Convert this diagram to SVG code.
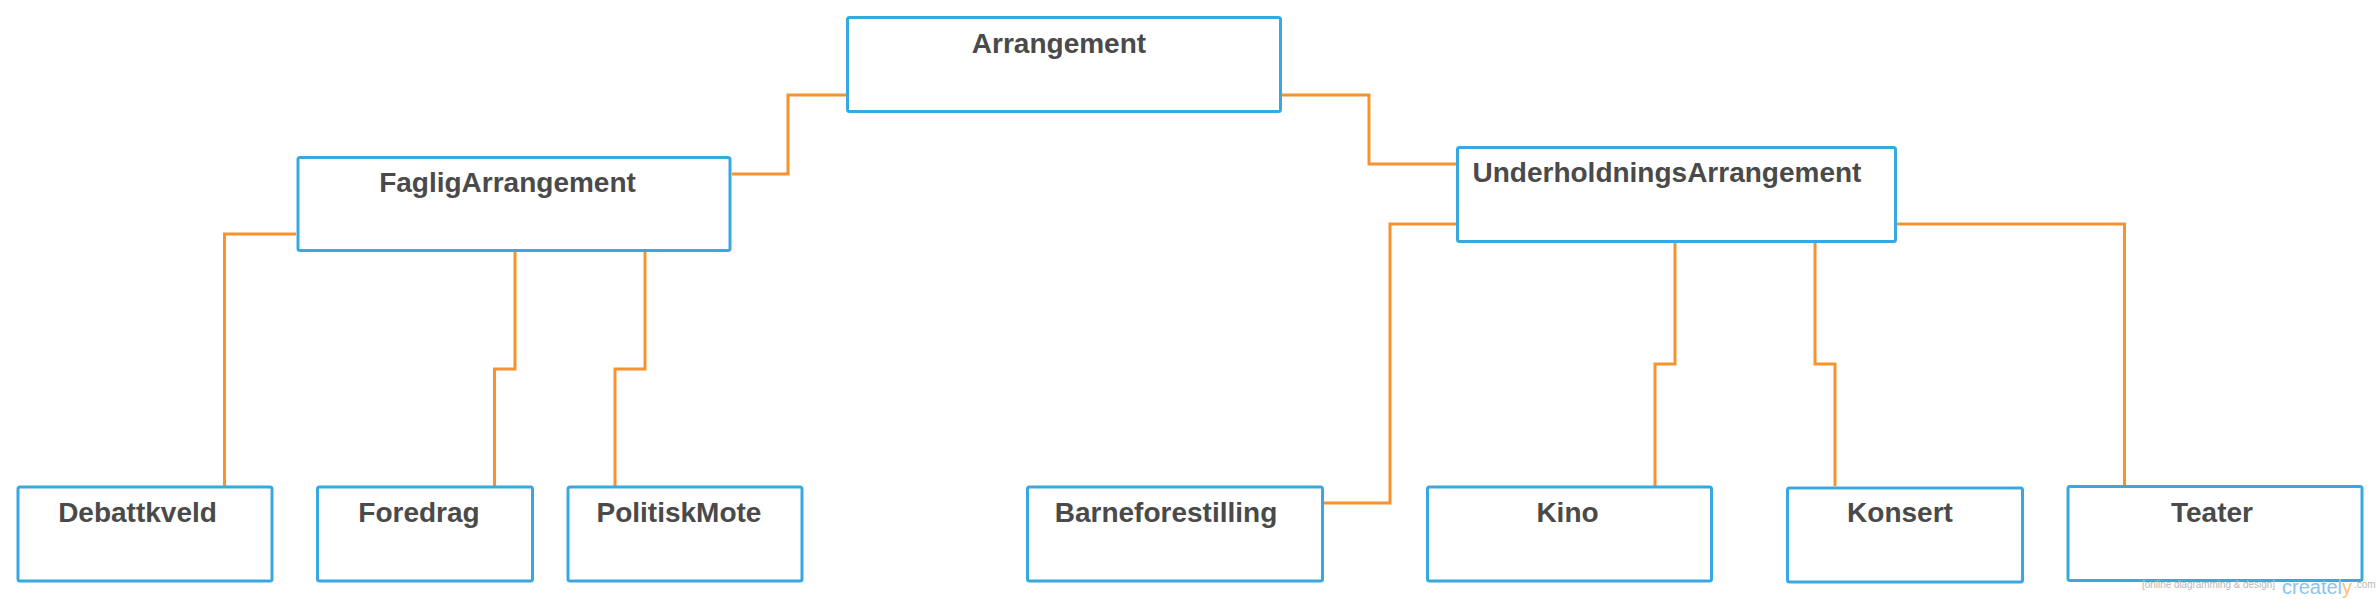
<svg xmlns="http://www.w3.org/2000/svg" width="2380" height="599" viewBox="0 0 2380 599">
<style>
.box{fill:#ffffff;stroke:#3aa8e0;stroke-width:3}
.lbl{font-family:"Liberation Sans",Arial,sans-serif;font-weight:bold;font-size:28px;fill:#4a4a4a;text-anchor:middle}
.con{fill:none;stroke:#f7922e;stroke-width:3;stroke-linejoin:miter}
.wm{font-family:"Liberation Sans",Arial,sans-serif}
</style>
<rect width="2380" height="599" fill="#ffffff"/>
<g id="connectors">
<path class="con" d="M846,95 H788 V174 H732"/>
<path class="con" d="M1282,95 H1369 V164 H1456"/>
<path class="con" d="M296,234 H224.5 V486"/>
<path class="con" d="M515,252 V369 H494.5 V486"/>
<path class="con" d="M645,252 V369 H615 V486"/>
<path class="con" d="M1456,224 H1390 V503 H1324"/>
<path class="con" d="M1675,243 V364 H1655 V486"/>
<path class="con" d="M1815,243 V364 H1835 V486"/>
<path class="con" d="M1897,224 H2124.5 V485"/>
</g>
<g id="n-arrangement"><rect class="box" x="847.5" y="17.5" width="433" height="94" rx="2"/><text class="lbl" x="1059" y="53">Arrangement</text></g>
<g id="n-faglig"><rect class="box" x="298" y="157.5" width="432" height="93" rx="2"/><text class="lbl" x="507.5" y="192">FagligArrangement</text></g>
<g id="n-underholdning"><rect class="box" x="1457.5" y="147.5" width="438" height="94" rx="2"/><text class="lbl" x="1472.5" y="182" style="text-anchor:start">UnderholdningsArrangement</text></g>
<g id="n-debattkveld"><rect class="box" x="18" y="487" width="254" height="94" rx="2"/><text class="lbl" x="137.5" y="522">Debattkveld</text></g>
<g id="n-foredrag"><rect class="box" x="317.5" y="487" width="215" height="94" rx="2"/><text class="lbl" x="419" y="522">Foredrag</text></g>
<g id="n-politiskmote"><rect class="box" x="568" y="487" width="234" height="94" rx="2"/><text class="lbl" x="679" y="522">PolitiskMote</text></g>
<g id="n-barneforestilling"><rect class="box" x="1027.5" y="487" width="295" height="94" rx="2"/><text class="lbl" x="1166" y="522">Barneforestilling</text></g>
<g id="n-kino"><rect class="box" x="1427.5" y="487" width="284" height="94" rx="2"/><text class="lbl" x="1567.5" y="522">Kino</text></g>
<g id="n-konsert"><rect class="box" x="1787.5" y="488" width="235" height="94" rx="2"/><text class="lbl" x="1900" y="522">Konsert</text></g>
<g id="n-teater"><rect class="box" x="2068" y="486.5" width="294" height="94" rx="2"/><text class="lbl" x="2212" y="522">Teater</text></g>
<g id="watermark">
<text class="wm" x="2142" y="588" font-size="10" fill="#b8b8b8" textLength="133" lengthAdjust="spacingAndGlyphs">[online diagramming &amp; design]</text>
<text class="wm" x="2282" y="594" font-size="20" fill="#8cc4ea" textLength="70" lengthAdjust="spacingAndGlyphs">createl<tspan fill="#f7c27a">y</tspan></text>
<text class="wm" x="2354" y="588" font-size="10" fill="#b8b8b8">.com</text>
</g>
</svg>
